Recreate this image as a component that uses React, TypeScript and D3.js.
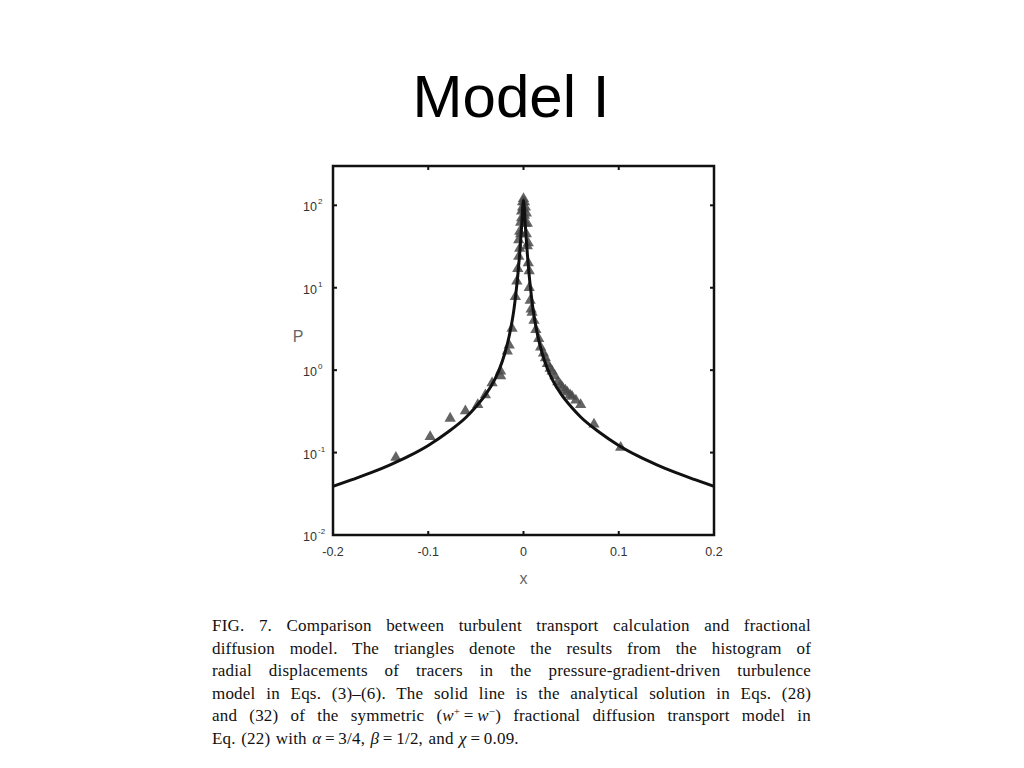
import * as d3 from "d3";
import { useLayoutEffect, useRef } from "react";

// x positions of the solid analytical line
const curveX = [
  -0.2, -0.18, -0.16, -0.14, -0.12, -0.1, -0.08, -0.06, -0.05, -0.04, -0.03, -0.025, -0.02,
  -0.015, -0.01, -0.008, -0.006, -0.004, -0.002, 0, 0.002, 0.004, 0.006, 0.008, 0.01, 0.015,
  0.02, 0.025, 0.03, 0.04, 0.05, 0.06, 0.08, 0.1, 0.12, 0.14, 0.16, 0.18, 0.2,
];
const curveP = [
  0.039, 0.047, 0.057, 0.071, 0.091, 0.122, 0.175, 0.27, 0.36, 0.5, 0.78, 1.05, 1.55,
  2.6, 5.5, 8.5, 14, 26, 55, 115, 55, 26, 14, 8.5, 5.5, 2.6,
  1.55, 1.05, 0.78, 0.5, 0.36, 0.27, 0.175, 0.122, 0.091, 0.071, 0.057, 0.047, 0.039,
];

// triangles: histogram of radial displacements
const triX = [
  -0.134, -0.098, -0.077, -0.061, -0.048, -0.04, -0.033, -0.024, -0.024, -0.017, -0.015,
  -0.012, -0.0085, -0.007, -0.006, -0.005, -0.005, -0.004, -0.004, -0.003, -0.003, -0.002,
  -0.002, -0.001, -0.001, 0, 0, 0.001, 0.001, 0.002, 0.002, 0.003, 0.003, 0.004, 0.004,
  0.005, 0.005, 0.006, 0.006, 0.007, 0.008, 0.009, 0.011, 0.013, 0.016,
  0.018, 0.021, 0.023, 0.025, 0.028, 0.03, 0.033, 0.036, 0.039, 0.041, 0.044, 0.046,
  0.049, 0.051, 0.055, 0.06, 0.074, 0.102,
];
const triP = [
  0.087, 0.156, 0.26, 0.32, 0.38, 0.5, 0.7, 0.85, 0.97, 1.7, 2.0,
  3.2, 7.8, 12, 17, 24, 38, 30, 48, 45, 62, 70,
  85, 95, 110, 120, 90, 110, 75, 95, 60, 80, 45, 60, 32,
  35, 20, 16, 10, 7, 5.5, 5, 4, 3.1, 2.4,
  1.9, 1.6, 1.4, 1.2, 1.05, 0.97, 0.85, 0.72, 0.66, 0.61, 0.57, 0.54,
  0.5, 0.48, 0.43, 0.38, 0.22, 0.115,
];

const xTicks = [-0.2, -0.1, 0, 0.1, 0.2];
const xTickLabels = ["-0.2", "-0.1", "0", "0.1", "0.2"];
const yTicks = [0.01, 0.1, 1, 10, 100];
const yExponents = ["-2", "-1", "0", "1", "2"];

const captionLines = [
  "FIG. 7. Comparison between turbulent transport calculation and fractional",
  "diffusion model. The triangles denote the results from the histogram of",
  "radial displacements of tracers in the pressure-gradient-driven turbulence",
  "model in Eqs. (3)\u2013(6). The solid line is the analytical solution in Eqs. (28)",
];

export default function App() {
  const W = 1024;
  const H = 768;
  const left = 333;
  const right = 714;
  const top = 166;
  const bottom = 535;

  const capRef = useRef<SVGGElement>(null);

  const x = d3.scaleLinear().domain([-0.2, 0.2]).range([left, right]);
  const y = d3.scaleLog().domain([0.01, 300]).range([bottom, top]);

  const line = d3
    .line<number>()
    .x((d, i) => x(curveX[i]))
    .y((d) => y(d))
    .curve(d3.curveMonotoneX);

  const tri = d3.symbol().type(d3.symbolTriangle).size(55)();

  const capX = 212;
  const capW = 599;
  const capY0 = 631;
  const capDy = 22.5;
  const capFont = "'Liberation Serif', 'Times New Roman', serif";
  const axFont = "'Liberation Sans', Arial, sans-serif";

  // justify caption lines by widening word gaps
  useLayoutEffect(() => {
    if (!capRef.current) return;
    d3.select(capRef.current)
      .selectAll<SVGTextElement, unknown>("text.just")
      .each(function () {
        const len = this.getComputedTextLength();
        const spaces = (this.textContent || "").split(" ").length - 1;
        if (spaces > 0) {
          d3.select(this).attr("word-spacing", Math.max(0, (capW - len) / spaces));
        }
      });
  }, []);

  return (
    <svg
      width={W}
      height={H}
      style={{ position: "absolute", left: 0, top: 0, background: "#fff" }}
    >
      <text
        x={511}
        y={117}
        textAnchor="middle"
        fontFamily={axFont}
        fontSize={60}
        fill="#000"
      >
        Model I
      </text>

      <defs>
        <clipPath id="plot">
          <rect x={left} y={top} width={right - left} height={bottom - top} />
        </clipPath>
      </defs>

      <g clipPath="url(#plot)">
        {triX.map((v, i) => (
          <path
            key={i}
            d={tri as string}
            transform={`translate(${x(v)},${y(triP[i])})`}
            fill="#4a4a4a"
            fillOpacity={0.85}
          />
        ))}
        <path d={line(curveP) as string} fill="none" stroke="#111" strokeWidth={3} />
      </g>

      {/* ticks on all four sides */}
      {xTicks.map((t) => (
        <g key={"xt" + t}>
          <line x1={x(t)} x2={x(t)} y1={bottom} y2={bottom - 4} stroke="#111" strokeWidth={2} />
          <line x1={x(t)} x2={x(t)} y1={top} y2={top + 4} stroke="#111" strokeWidth={2} />
        </g>
      ))}
      {yTicks.map((t) => (
        <g key={"yt" + t}>
          <line x1={left} x2={left + 4} y1={y(t)} y2={y(t)} stroke="#111" strokeWidth={2} />
          <line x1={right} x2={right - 4} y1={y(t)} y2={y(t)} stroke="#111" strokeWidth={2} />
        </g>
      ))}

      <rect
        x={left}
        y={top}
        width={right - left}
        height={bottom - top}
        fill="none"
        stroke="#111"
        strokeWidth={2.5}
      />

      {/* tick labels */}
      {xTicks.map((t, i) => (
        <text
          key={"xl" + t}
          x={x(t)}
          y={556}
          textAnchor="middle"
          fontFamily={axFont}
          fontSize={12.5}
          fill="#333"
        >
          {xTickLabels[i]}
        </text>
      ))}
      {yTicks.map((t, i) => (
        <text
          key={"yl" + t}
          x={317}
          y={y(t) + 6}
          textAnchor="end"
          fontFamily={axFont}
          fontSize={12.5}
          fill="#333"
        >
          10
          <tspan x={318} dy={-7} fontSize={8} textAnchor="start">
            {yExponents[i]}
          </tspan>
        </text>
      ))}

      <text x={x(0)} y={584} textAnchor="middle" fontFamily={axFont} fontSize={16} fill="#666">
        x
      </text>
      <text x={298} y={342} textAnchor="middle" fontFamily={axFont} fontSize={16} fill="#666">
        P
      </text>

      {/* caption */}
      <g ref={capRef} fontFamily={capFont} fontSize={17} letterSpacing={0.2} fill="#111">
        {captionLines.map((s, i) => (
          <text key={i} className="just" x={capX} y={capY0 + i * capDy}>
            {s}
          </text>
        ))}
        <text className="just" x={capX} y={capY0 + 4 * capDy}>
          and (32) of the symmetric (<tspan fontStyle="italic">w</tspan>
          <tspan dy={-6} fontSize={11}>+</tspan>
          <tspan dy={6}>{"\u2009=\u2009"}</tspan>
          <tspan fontStyle="italic">w</tspan>
          <tspan dy={-6} fontSize={11}>{"\u2212"}</tspan>
          <tspan dy={6}>) fractional diffusion transport model in</tspan>
        </text>
        <text x={capX} y={capY0 + 5 * capDy} wordSpacing={1}>
          Eq. (22) with <tspan fontStyle="italic">{"\u03b1"}</tspan>{"\u2009=\u2009"}3/4,{" "}
          <tspan fontStyle="italic">{"\u03b2"}</tspan>{"\u2009=\u2009"}1/2, and{" "}
          <tspan fontStyle="italic">{"\u03c7"}</tspan>{"\u2009=\u2009"}0.09.
        </text>
      </g>
    </svg>
  );
}
